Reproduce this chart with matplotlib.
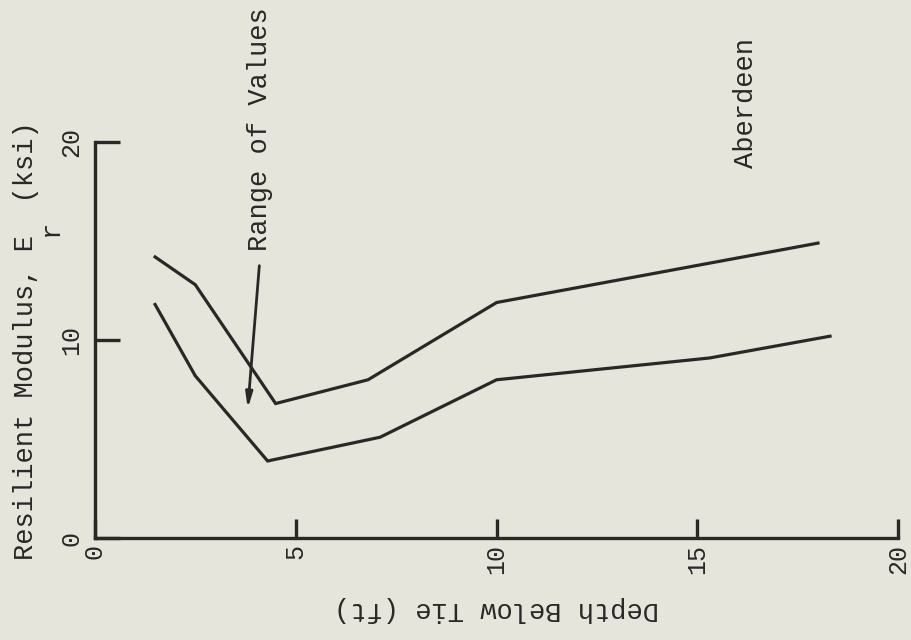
"""Resilient modulus vs depth below tie, Aberdeen (scanned report figure)."""

import matplotlib
matplotlib.use("Agg")
import matplotlib.pyplot as plt

plt.rcParams["font.family"] = ["Liberation Mono", "DejaVu Sans Mono"]

PAPER = "#e5e5db"
INK = "#2b2727"

# depth (ft) and modulus (ksi)
upper_depth = [1.5, 2.5, 4.5, 6.8, 10.0, 18.0]
upper_mod = [14.2, 12.8, 6.8, 8.0, 11.9, 14.9]
lower_depth = [1.5, 2.5, 4.3, 7.1, 10.0, 15.3, 18.3]
lower_mod = [11.8, 8.2, 3.9, 5.1, 8.0, 9.1, 10.2]

x_ticks = [0, 5, 10, 15, 20]
y_ticks = [0, 10, 20]

fig = plt.figure(figsize=(9.12, 6.4), dpi=100, facecolor=PAPER)
ax = fig.add_axes([0.104, 0.159, 0.881, 0.619])
ax.set_facecolor(PAPER)

ax.plot(upper_depth, upper_mod, color=INK, linewidth=2.3, solid_joinstyle="miter")
ax.plot(lower_depth, lower_mod, color=INK, linewidth=2.3, solid_joinstyle="miter")

ax.set_xlim(0, 20)
ax.set_ylim(0, 20)
ax.spines[["top", "right"]].set_visible(False)
for s in ("left", "bottom"):
    ax.spines[s].set_linewidth(2.4)
    ax.spines[s].set_color(INK)

ax.set_xticks(x_ticks)
ax.set_yticks(y_ticks)
ax.set_xticklabels([str(t) for t in x_ticks], rotation=90, fontsize=18, color=INK)
ax.set_yticklabels([str(t) for t in y_ticks], rotation=90, fontsize=18, color=INK,
                   va="center")
ax.tick_params(axis="x", direction="in", length=14, width=2.4, color=INK, pad=4)
ax.tick_params(axis="y", direction="in", length=18, width=2.4, color=INK, pad=8)

# typewritten label: subscript r typed on a lower line, so it is placed on its own
ax.set_ylabel("Resilient Modulus, E  (ksi)", fontsize=19.5, color=INK, labelpad=15)
fig.text(51 / 912, 1 - 228 / 640, "r", rotation=90, ha="center", va="center",
         fontsize=19.5, color=INK)
ax.set_xlabel("Depth Below Tie (ft)", fontsize=19.5, color=INK, rotation=180, labelpad=16)

# pointer to the band between the two curves
ax.annotate("", xy=(3.8, 6.4), xytext=(4.1, 13.9), annotation_clip=False,
            arrowprops=dict(arrowstyle="-|>,head_length=0.9,head_width=0.2",
                            color=INK, linewidth=2))
ax.text(4.1, 14.5, "Range of Values", rotation=90, ha="center", va="bottom",
        fontsize=19.5, color=INK, clip_on=False)
ax.text(16.2, 18.7, "Aberdeen", rotation=90, ha="center", va="bottom",
        fontsize=19.5, color=INK, clip_on=False)

fig.savefig("out.png", dpi=100, facecolor=PAPER)
